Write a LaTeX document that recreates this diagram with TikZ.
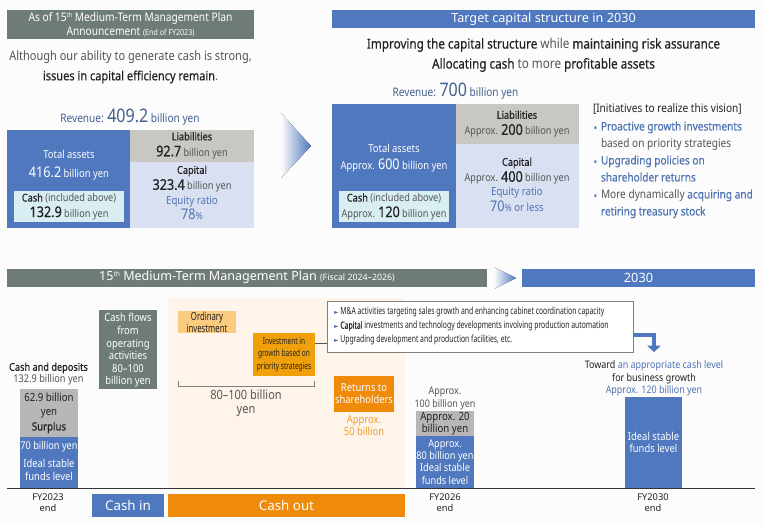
\documentclass[tikz,border=0pt]{standalone}
\usepackage{fontspec}
\setmainfont[FakeStretch=0.86]{Noto Sans}
\newfontfamily\medf[FakeStretch=0.86,FakeBold=0.5]{Noto Sans}
\newfontfamily\condf[FakeStretch=0.69]{Noto Sans}
\newfontfamily\condm[FakeStretch=0.69,FakeBold=0.4]{Noto Sans}
\newfontfamily\widef{Noto Sans}
\newfontfamily\symf{DejaVu Sans}
\usetikzlibrary{calc}
\definecolor{pagebg}{HTML}{FCFCFC}
\definecolor{hgray}{HTML}{6F7B78}
\definecolor{mblue}{HTML}{4F78BE}
\definecolor{tblue}{HTML}{4F74B4}
\definecolor{navy}{HTML}{44608F}
\definecolor{liab}{HTML}{C8C7C1}
\definecolor{capit}{HTML}{D9E0F1}
\definecolor{cashb}{HTML}{D9EEF2}
\definecolor{orng}{HTML}{EF8A0B}
\definecolor{invb}{HTML}{F0A00A}
\definecolor{ordb}{HTML}{FBCB80}
\definecolor{peach}{HTML}{FEF4E9}
\definecolor{surp}{HTML}{B7B7B7}
\definecolor{ltxt}{HTML}{555555}
\definecolor{dtxt}{HTML}{222222}
\newcommand\fs[1]{\fontsize{#1}{#1}\selectfont}
\newcommand\fl[2]{\fontsize{#1}{\the\dimexpr #2pt*3/4\relax}\selectfont\lineskiplimit=-20pt }
\newcommand\mb[1]{{\medf\color{dtxt}#1}}
\newcommand\thsup{\raisebox{3pt}{\fs{5}th}}
\tikzset{x=0.75pt,y=-0.75pt,
  every node/.style={inner sep=0pt,outer sep=0pt,align=center},
  txt/.style={text=ltxt},
}
\newcommand\rect[6]{\node[fill=#1,minimum width=#4*0.75pt-#2*0.75pt,minimum height=#5*0.75pt-#3*0.75pt,anchor=north west] (#6) at (#2,#3) {};}
\begin{document}
\begin{tikzpicture}
\useasboundingbox (0,0) rectangle (764,526);
\fill[pagebg] (0,0) rectangle (764,526);
% top-left
\rect{hgray}{7}{10}{254}{39}{hl}
\node[text=white,font=\fl{8.9}{14.5}] at (hl) {As of 15\thsup{} Medium-Term Management Plan\\Announcement {\fs{6.2}(End of FY2023)}};
\node[txt,font=\fl{9.6}{20}] (introl) at (130.5,67) {Although our ability to generate cash is strong,\\\mb{issues in capital efficiency remain}.};
\node[text=navy,font=\fs{8.8}] (revl) at (130,117.5) {Revenue: {\fs{14}409.2} billion yen};
\rect{mblue}{7}{130}{130}{228}{ta}
\rect{liab}{130}{130}{254}{162}{ll}
\rect{capit}{130}{162}{254}{228}{cl}
\rect{cashb}{14}{191}{124}{222}{cb}
\node[text=white,font=\fs{8.2}] (tal) at (69,154) {Total assets};
\node[text=white,font=\fs{8.2}] (tav) at (69,173) {{\fs{11}416.2} billion yen};
\node[font=\fl{8}{15.5}] at (cb) {\mb{Cash} {\color{ltxt}(included above)}\\\mb{\fs{11}132.9} {\color{ltxt}billion yen}};
\node[font=\fl{8}{16}] at (192,145.5) {\mb{Liabilities}\\\mb{\fs{11}92.7} {\color{ltxt}billion yen}};
\node[font=\fl{8}{16}] at (192,179) {\mb{Capital}\\\mb{\fs{11}323.4} {\color{ltxt}billion yen}};
\node[text=tblue,font=\fl{8.4}{14.5}] at (192,208) {Equity ratio\\{\fs{11}78}{\fs{7.5}\%}};
% big arrow
\fill[left color=pagebg,right color=mblue] (281,113) -- (311,146) -- (281,178) -- cycle;
% top-right
\rect{mblue}{332}{10}{755}{28}{hr}
\node[text=white,font=\widef\fs{9.5}] at (hr) {Target capital structure in 2030};
\node[font=\fl{10.2}{20},text=ltxt] at (543.5,55) {\mb{Improving the capital structure} while \mb{maintaining risk assurance}\\\mb{Allocating cash} to more \mb{profitable assets}};
\node[text=navy,font=\fs{8.8}] (revr) at (455.5,91) {Revenue: {\fs{14}700} billion yen};
\rect{mblue}{332}{104}{456}{228}{tar}
\rect{liab}{456}{104}{579}{144}{lr}
\rect{capit}{456}{144}{579}{228}{cr}
\rect{cashb}{339}{191}{449}{222}{cbr}
\node[text=white,font=\fl{8.2}{17}] at (394,158) {Total assets\\Approx. {\fs{11}600} billion yen};
\node[font=\fl{8}{15.5}] at (cbr) {\mb{Cash} {\color{ltxt}(included above)}\\{\color{ltxt}Approx.} \mb{\fs{11}120} {\color{ltxt}billion yen}};
\node[font=\fl{8}{16}] at (517,124) {\mb{Liabilities}\\{\color{ltxt}Approx.} \mb{\fs{11}200} {\color{ltxt}billion yen}};
\node[font=\fl{8}{16}] at (517,171) {\mb{Capital}\\{\color{ltxt}Approx.} \mb{\fs{11}400} {\color{ltxt}billion yen}};
\node[text=tblue,font=\fl{8.4}{16}] at (517,199.5) {Equity ratio\\{\fs{11}70}{\fs{7.5}\%} or less};
\node[anchor=west,text=dtxt,font=\fs{8.8}] at (593,108.5) {[Initiatives to realize this vision]};
\node[anchor=north west,align=left,font=\fl{8.8}{17}] at (601,121.5) {\color{tblue}{\medf Proactive growth investments}\\\color{ltxt}based on priority strategies\\\color{tblue}{\medf Upgrading policies on}\\\color{tblue}{\medf shareholder returns}\\\color{ltxt}More dynamically \color{tblue}{\medf acquiring and}\\\color{tblue}{\medf retiring treasury stock}};
\node[text=tblue,font=\fs{8.8}] at (595.5,130) {•};
\node[text=tblue,font=\fs{8.8}] at (595.5,164) {•};
\node[text=tblue,font=\fs{8.8}] at (595.5,198) {•};
% bottom header
\rect{hgray}{7}{269}{487}{287}{hm}
\node[text=white,font=\widef\fs{9.4}] at (247,277.5) {15\thsup{} Medium-Term Management Plan {\fs{6.6}(Fiscal 2024–2026)}};
\fill[left color=pagebg,right color=mblue] (494,267) -- (516,278) -- (494,289) -- cycle;
\rect{mblue}{522}{269}{755}{287}{hy}
\node[text=white,font=\widef\fs{9.6}] at (hy) {2030};
% peach region
\rect{peach}{168}{298}{405}{488}{pz}
% baseline
\coordinate (bl) at (7,488.5);
\coordinate (br) at (755,488.5);
% FY2023 bar
\node[text=dtxt,font=\fl{8}{12}] at (48.5,374) {\mb{Cash and deposits}\\{\color{ltxt}132.9 billion yen}};
\rect{surp}{20}{389}{78}{437}{s23}
\rect{mblue}{20}{437}{78}{488}{b23}
\node[text=dtxt,font=\fl{8.4}{14.5}] at (s23) {62.9 billion\\yen\\\mb{Surplus}};
\node[text=white,font=\fs{8}] at (49,447) {70 billion yen};
\node[text=white,font=\fl{8.2}{12.5}] at (49,470) {Ideal stable\\funds level};
% Cash flows
\rect{hgray}{99}{310}{157}{389}{cf}
\node[text=white,font=\fl{8.2}{12.6}] at (128,350.5) {Cash flows\\from\\operating\\activities\\80–100\\billion yen};
% Ordinary / investment
\rect{ordb}{178}{311}{236}{333}{oi}
\node[text=dtxt,font=\condf\fl{8.4}{12}] at (oi) {Ordinary\\investment};
\rect{invb}{253}{333}{315}{376}{gi}
\node[text=dtxt,font=\condf\fl{7.1}{12.5}] at (gi) {Investment in\\growth based on\\priority strategies};
% bracket
\coordinate (bk1) at (178.5,381);
\coordinate (bk2) at (314.5,381);
\draw[gray,line width=0.45pt] (bk1) -- ++(0,5.5) -- ($(bk2)+(0,5.5)$) -- (bk2);
\node[txt,font=\fl{9.6}{14}] at (246,403) {80–100 billion\\yen};
% white list
\node[draw=gray,line width=0.6pt,fill=white,minimum width=306*0.75pt,minimum height=51*0.75pt,anchor=north west] (lst) at (327,301.5) {};
\coordinate (ly) at (0,343);
\draw[ltxt,line width=0.5pt] (gi.east |- ly) -- (lst.west |- ly);
\node[anchor=north west,align=left,text=dtxt,font=\condf\fl{7.4}{14}] at (334,307.2) {{\symf\fs{4.5}\color{tblue}►} M\&A activities targeting sales growth and enhancing cabinet coordination capacity\\{\symf\fs{4.5}\color{tblue}►} {\condm Capital} investments and technology developments involving production automation\\{\symf\fs{4.5}\color{tblue}►} Upgrading development and production facilities, etc.};
% bent arrow
\coordinate (b0) at (654,335);
\coordinate (b1) at (654,346);
\draw[mblue,line width=4.5*0.75pt] (lst.east |- b0) -- (b0) -- (b1);
\fill[mblue] (647,345.5) -- (661,345.5) -- (654,352) -- cycle;
% Returns
\rect{orng}{334}{376}{394}{412}{rt}
\node[text=white,font=\fl{8.2}{12.2}] at (rt) {Returns to\\shareholders};
\node[text=orng!85!white,font=\fl{8.2}{12.2}] at (364,426) {Approx.\\50 billion};
% FY2026 bar
\node[txt,font=\fl{7.8}{12.2}] at (445,398.5) {Approx.\\100 billion yen};
\rect{surp}{416}{411}{474}{436}{s26}
\rect{mblue}{416}{436}{474}{488}{b26}
\node[text=dtxt,font=\fl{8.4}{12.4}] at (s26) {Approx. 20\\billion yen};
\node[text=white,font=\fl{8}{12.3}] at (b26) {Approx.\\80 billion yen\\Ideal stable\\funds level};
% FY2030
\node[font=\fl{7.8}{12.6}] at (654,378.5) {{\color{dtxt}Toward} {\color{tblue}an appropriate cash level}\\{\color{dtxt}for business growth}\\{\color{tblue}Approx. 120 billion yen}};
\rect{mblue}{625}{397}{682}{488}{b30}
\node[text=white,font=\fl{8.2}{12.4}] at (653.5,442.5) {Ideal stable\\funds level};
\draw[black!80,line width=0.8pt] (bl) -- (br);
% bottom labels
\node[text=dtxt,font=\widef\fl{7}{11}] at (48,503) {FY2023\\end};
\node[text=dtxt,font=\widef\fl{7}{11}] at (445,503) {FY2026\\end};
\node[text=dtxt,font=\widef\fl{7}{11}] at (653,503) {FY2030\\end};
\rect{mblue}{92}{494}{164}{517}{ci}
\node[text=white,font=\widef\fs{10}] at (ci) {Cash in};
\rect{orng}{168}{494}{405}{517}{co}
\node[text=white,font=\widef\fs{10}] at (co) {Cash out};
\end{tikzpicture}
\end{document}
